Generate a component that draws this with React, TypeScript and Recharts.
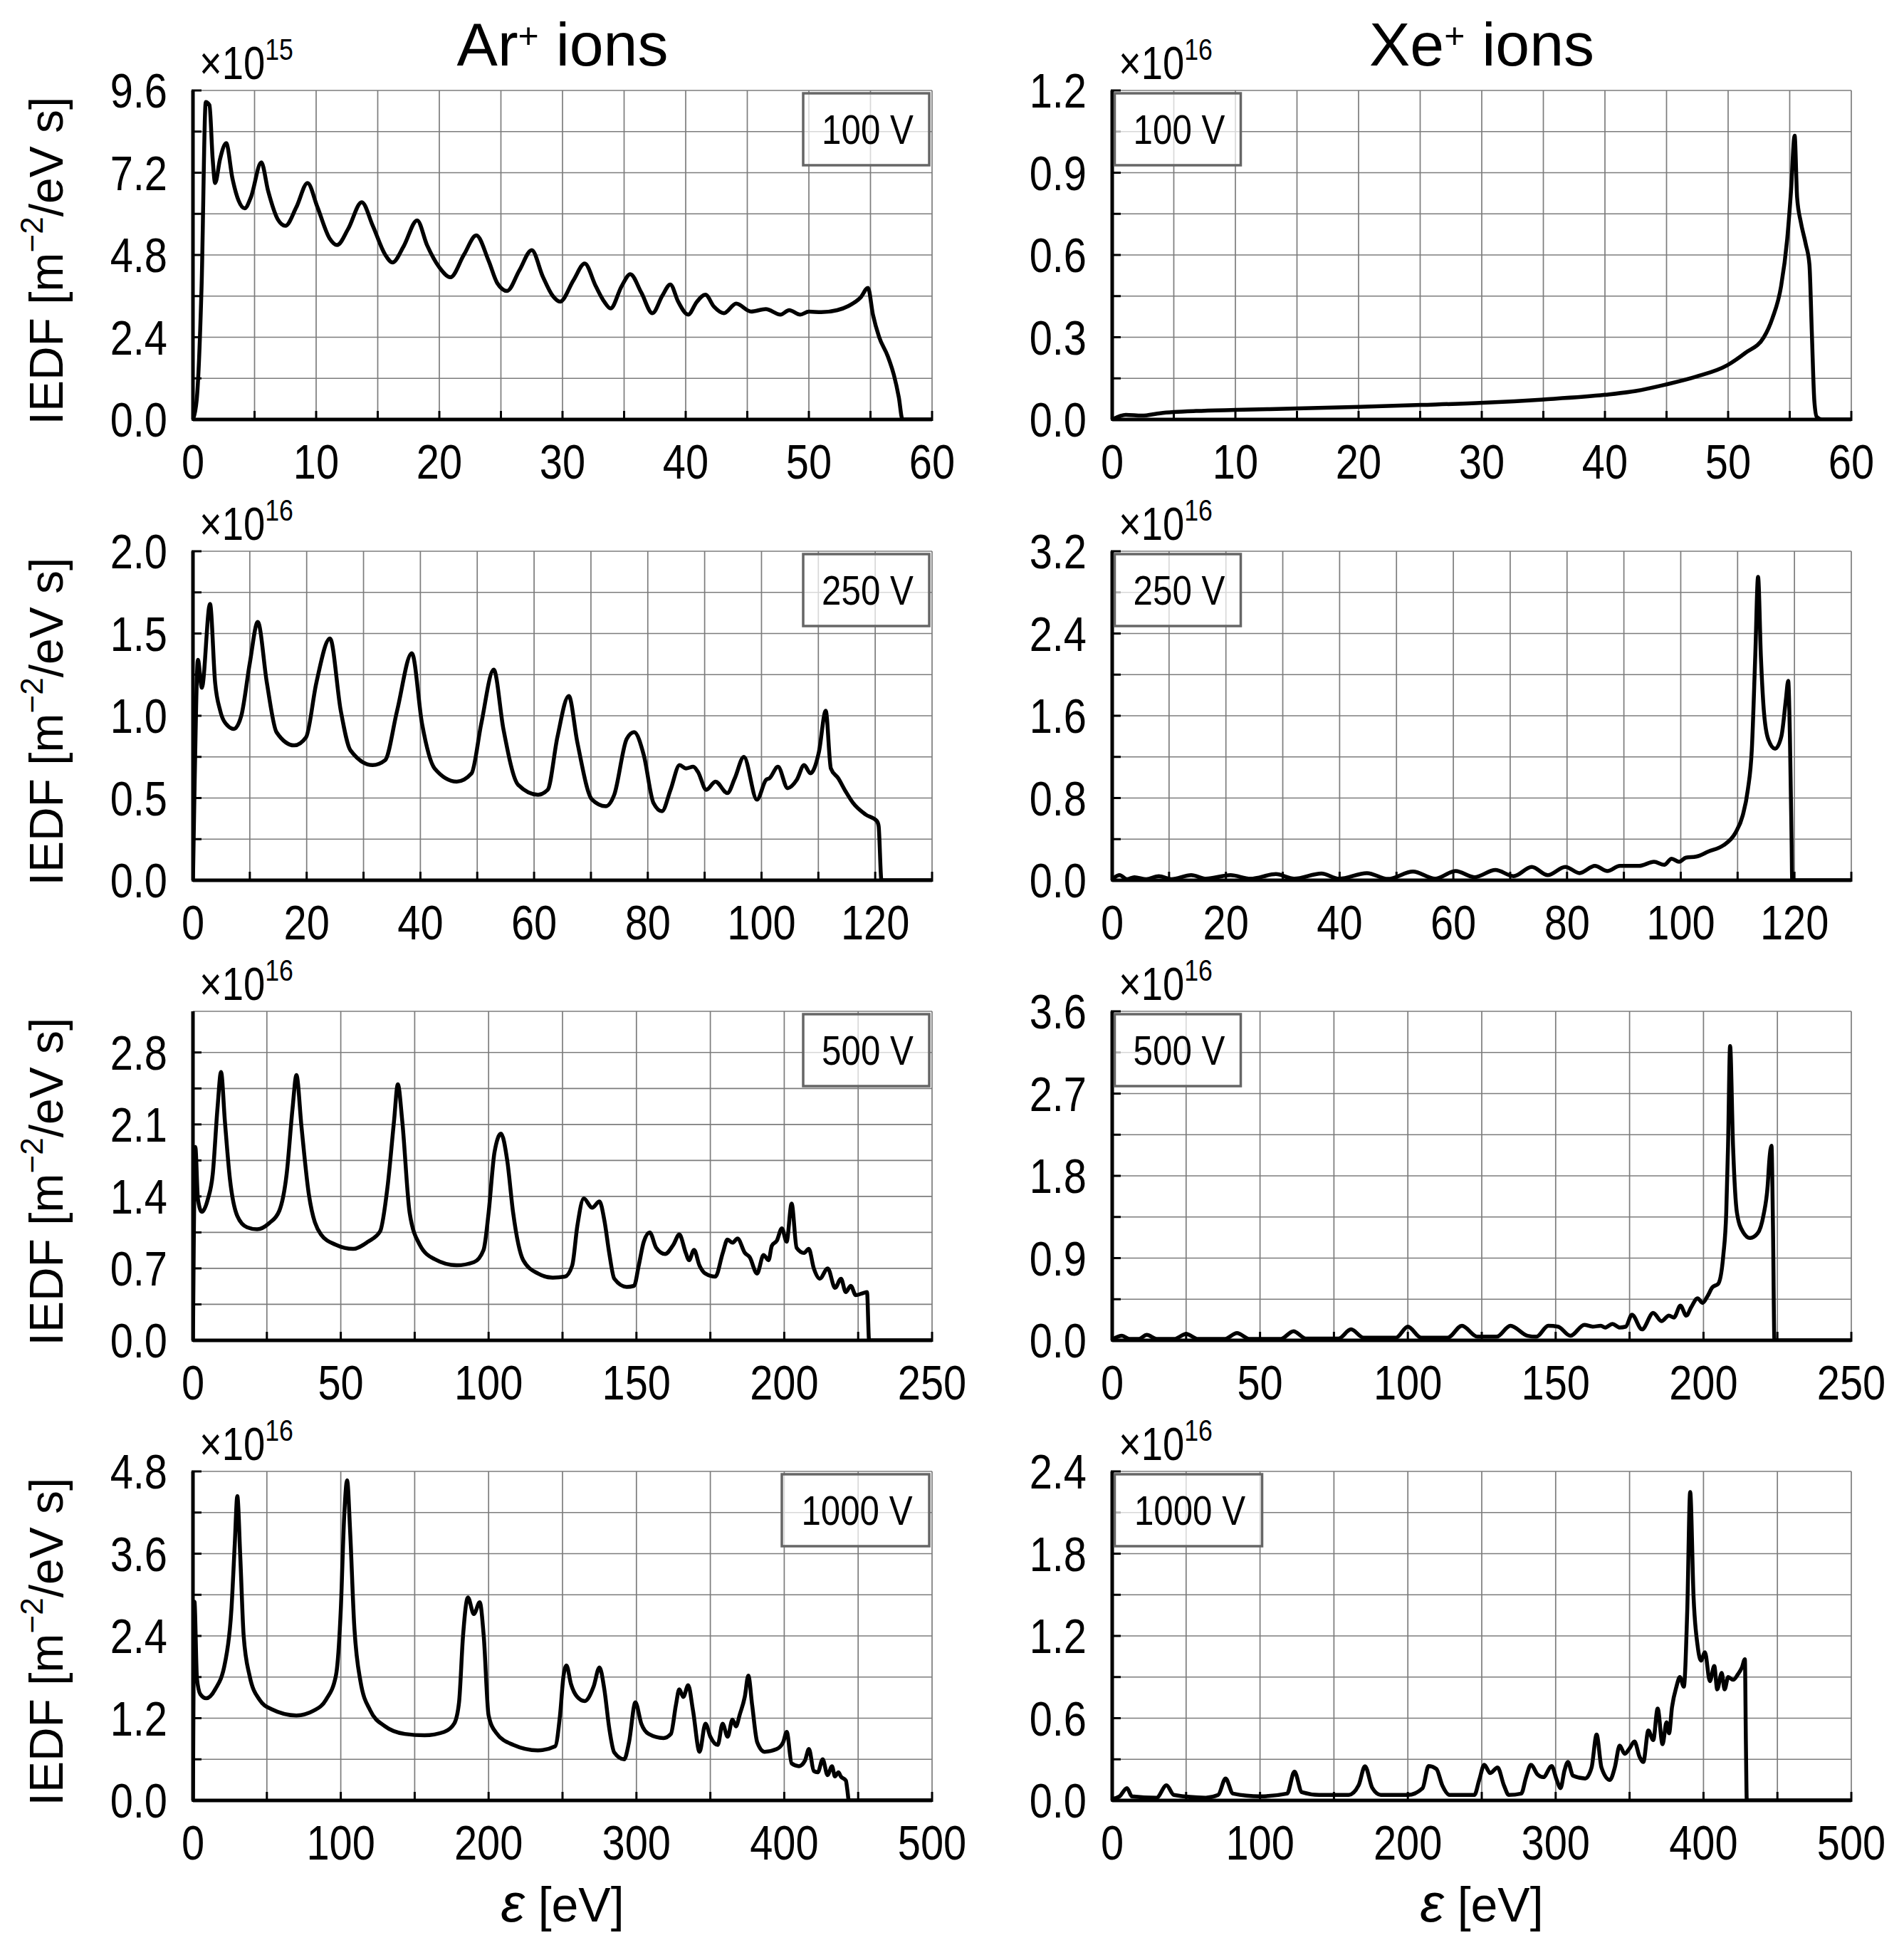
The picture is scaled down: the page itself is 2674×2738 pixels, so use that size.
import React from 'react';
import { LineChart, Line, XAxis, YAxis, CartesianGrid } from 'recharts';

// ---- axis ticks (grid at every tick, labels only on the listed ones) ----
const X60_GRID = [0, 5, 10, 15, 20, 25, 30, 35, 40, 45, 50, 55, 60];
const X60_LABELS = [0, 10, 20, 30, 40, 50, 60];
const X130_GRID = [0, 10, 20, 30, 40, 50, 60, 70, 80, 90, 100, 110, 120, 130];
const X130_LABELS = [0, 20, 40, 60, 80, 100, 120];
const X250_GRID = [0, 25, 50, 75, 100, 125, 150, 175, 200, 225, 250];
const X250_LABELS = [0, 50, 100, 150, 200, 250];
const X500_GRID = [0, 50, 100, 150, 200, 250, 300, 350, 400, 450, 500];
const X500_LABELS = [0, 100, 200, 300, 400, 500];

const AR100_YGRID = [0, 1.2, 2.4, 3.6, 4.8, 6.0, 7.2, 8.4, 9.6];
const AR100_YLABELS = [0, 2.4, 4.8, 7.2, 9.6];
const XE100_YGRID = [0, 0.15, 0.3, 0.45, 0.6, 0.75, 0.9, 1.05, 1.2];
const XE100_YLABELS = [0, 0.3, 0.6, 0.9, 1.2];
const AR250_YGRID = [0, 0.25, 0.5, 0.75, 1.0, 1.25, 1.5, 1.75, 2.0];
const AR250_YLABELS = [0, 0.5, 1.0, 1.5, 2.0];
const XE250_YGRID = [0, 0.4, 0.8, 1.2, 1.6, 2.0, 2.4, 2.8, 3.2];
const XE250_YLABELS = [0, 0.8, 1.6, 2.4, 3.2];
const AR500_YGRID = [0, 0.35, 0.7, 1.05, 1.4, 1.75, 2.1, 2.45, 2.8];
const AR500_YLABELS = [0, 0.7, 1.4, 2.1, 2.8];
const XE500_YGRID = [0, 0.45, 0.9, 1.35, 1.8, 2.25, 2.7, 3.15, 3.6];
const XE500_YLABELS = [0, 0.9, 1.8, 2.7, 3.6];
const AR1000_YGRID = [0, 0.6, 1.2, 1.8, 2.4, 3.0, 3.6, 4.2, 4.8];
const AR1000_YLABELS = [0, 1.2, 2.4, 3.6, 4.8];
const XE1000_YGRID = [0, 0.3, 0.6, 0.9, 1.2, 1.5, 1.8, 2.1, 2.4];
const XE1000_YLABELS = [0, 0.6, 1.2, 1.8, 2.4];

// ---- IEDF curves: energy [eV] and IEDF (in units of the panel multiplier) ----
const AR100_E = [
  0, 0.3, 0.7, 1.04, 1.34, 1.6, 1.8, 2.2, 2.7, 3.2,
  3.7, 4.2, 4.7, 5.55, 6.1, 6.9, 7.5, 8.4, 9.3, 10.1,
  11.1, 11.7, 12.6, 13.7, 14.6, 15.6, 16.2, 17.1, 18.2, 19.0,
  20.0, 20.9, 22.0, 23.0, 24.0, 24.7, 25.5, 26.5, 27.5, 28.4,
  29.2, 29.8, 30.9, 31.8, 32.7, 33.4, 33.9, 34.8, 35.5, 36.4,
  37.3, 38.1, 38.75, 39.4, 40.2, 40.9, 41.6, 42.3, 43.1, 44.1,
  45.3, 46.5, 47.7, 48.4, 49.3, 50.0, 51.0, 52.3, 53.2, 54.2,
  54.8, 55.2, 55.7, 56.4, 56.9, 57.3, 57.6, 60,
];
const AR100_F = [
  0, 0.56, 3.89, 9.26, 9.17, 7.6, 6.9, 7.6, 8.06, 7.04,
  6.39, 6.16, 6.48, 7.5, 6.67, 5.83, 5.65, 6.2, 6.9, 6.2,
  5.28, 5.09, 5.56, 6.34, 5.65, 4.81, 4.58, 5.05, 5.81, 5.09,
  4.44, 4.15, 4.81, 5.37, 4.63, 3.98, 3.75, 4.35, 4.94, 4.17,
  3.61, 3.44, 4.07, 4.55, 3.89, 3.43, 3.24, 3.89, 4.24, 3.70,
  3.10, 3.61, 3.94, 3.43, 3.06, 3.43, 3.64, 3.29, 3.10, 3.38,
  3.15, 3.22, 3.06, 3.19, 3.06, 3.15, 3.13, 3.19, 3.31, 3.56,
  3.84, 3.06, 2.41, 1.85, 1.30, 0.65, 0, 0,
];

const XE100_E = [
  0, 1.1, 2.4, 3.9, 5, 6.8, 10, 15, 20.1, 25.1,
  30.1, 35, 40, 42.5, 44.9, 47.4, 49.9, 51.4, 52.9, 53.6,
  54.3, 54.8, 55.1, 55.4, 55.6, 55.9, 56.3, 56.6, 56.8, 57,
  57.2, 57.6, 60,
];
const XE100_F = [
  0, 0.017, 0.014, 0.023, 0.027, 0.031, 0.035, 0.04, 0.046, 0.053,
  0.061, 0.073, 0.09, 0.104, 0.127, 0.156, 0.197, 0.243, 0.30, 0.37,
  0.486, 0.66, 0.83, 1.035, 0.81, 0.72, 0.64, 0.565, 0.31, 0.067,
  0.009, 0, 0,
];

const AR250_E = [
  0, 0.3, 0.87, 1.56, 3.0, 3.9, 4.8, 6.1, 7.2, 8.5,
  10, 11.4, 13, 14.7, 17.8, 19.9, 21.7, 24.1, 26, 27.7,
  31.6, 33.8, 35.9, 38.5, 40.3, 42.5, 46.4, 49, 50.7, 52.9,
  54.6, 57.2, 60.7, 62.4, 64.1, 66.1, 67.6, 70.2, 72.6, 74.1,
  76.3, 77.6, 79.3, 81, 82.5, 84, 85.6, 86.7, 88, 88.8,
  90.3, 91.9, 94, 95.3, 96.9, 99.2, 100.8, 101.4, 102.9, 104.6,
  106.2, 107.5, 108.6, 110.1, 111.3, 112.2, 113.5, 114.8, 116.1, 118.3,
  120.3, 120.6, 121.1, 130,
];
const AR250_F = [
  0, 0.6, 1.34, 1.17, 1.68, 1.2, 1.03, 0.94, 0.92, 1.0,
  1.32, 1.57, 1.2, 0.9, 0.82, 0.87, 1.2, 1.47, 1.03, 0.79,
  0.70, 0.73, 1.03, 1.38, 0.95, 0.68, 0.60, 0.65, 0.95, 1.28,
  0.92, 0.58, 0.52, 0.55, 0.87, 1.12, 0.84, 0.49, 0.45, 0.52,
  0.86, 0.90, 0.76, 0.47, 0.42, 0.55, 0.70, 0.68, 0.69, 0.66,
  0.55, 0.60, 0.53, 0.62, 0.75, 0.49, 0.61, 0.62, 0.69, 0.56,
  0.61, 0.70, 0.65, 0.78, 1.03, 0.68, 0.62, 0.54, 0.47, 0.40,
  0.36, 0.33, 0, 0,
];

const XE250_E = [
  0, 1.3, 2.6, 3.9, 6, 8.2, 10.4, 13.9, 16.5, 20.8,
  24.3, 28.8, 32, 36.8, 39.9, 44.8, 48.5, 52.9, 56.8, 60.4,
  63.7, 67.4, 70.6, 73.8, 76.6, 79.7, 82.2, 84.9, 87.1, 89.3,
  92.7, 95.3, 97.1, 98.4, 99.7, 100.9, 102.7, 104.9, 107.5, 109.6,
  110.9, 111.8, 112.5, 113.1, 113.6, 114.1, 114.6, 115.4, 116.6, 117.7,
  118.5, 118.9, 119.2, 119.5, 119.6, 130,
];
const XE250_F = [
  0.01, 0.05, 0.01, 0.03, 0.01, 0.04, 0.01, 0.05, 0.015, 0.05,
  0.015, 0.06, 0.015, 0.065, 0.015, 0.07, 0.013, 0.085, 0.015, 0.09,
  0.03, 0.10, 0.04, 0.13, 0.05, 0.13, 0.07, 0.14, 0.09, 0.14,
  0.14, 0.18, 0.15, 0.21, 0.18, 0.22, 0.23, 0.28, 0.34, 0.46,
  0.63, 0.88, 1.27, 2.17, 2.95, 2.17, 1.66, 1.37, 1.28, 1.40,
  1.76, 1.94, 1.40, 0.37, 0, 0,
];

const AR500_E = [
  0, 0.8, 1.7, 3, 5, 6.7, 8.3, 9.5, 10.8, 12.5,
  15, 18.3, 21.7, 25.8, 29.2, 31.7, 33.7, 35, 36.7, 39.2,
  43.3, 48.3, 54.2, 59.2, 63.3, 65.8, 68, 69.3, 70.8, 73.3,
  76.7, 81.7, 89.2, 95, 98.3, 100, 102, 104.2, 106.3, 108.3,
  111.7, 116.7, 121.7, 125.8, 128.3, 130, 132.2, 135, 137.5, 139.2,
  140.8, 142.5, 146.7, 149.2, 150.8, 152.5, 154.5, 156.7, 159.7, 162.5,
  164.5, 166.7, 167.8, 169.5, 171.3, 173.3, 176.7, 179.2, 180.8, 182.5,
  184.2, 186.7, 188.3, 190.8, 193, 194.7, 195.8, 197.5, 199.2, 200.8,
  202.5, 204.2, 206.7, 208.3, 210, 212, 214.7, 217.2, 219.2, 220.8,
  222.5, 224.2, 226.7, 228, 228.7, 250,
];
const AR500_F = [
  0, 1.88, 1.37, 1.25, 1.37, 1.62, 2.26, 2.61, 2.13, 1.57,
  1.21, 1.10, 1.08, 1.14, 1.26, 1.62, 2.26, 2.58, 2.08, 1.42,
  1.03, 0.93, 0.89, 0.96, 1.06, 1.49, 2.13, 2.49, 2.13, 1.24,
  0.93, 0.79, 0.73, 0.76, 0.88, 1.24, 1.83, 2.01, 1.75, 1.24,
  0.78, 0.65, 0.61, 0.62, 0.73, 1.11, 1.38, 1.29, 1.35, 1.16,
  0.85, 0.60, 0.52, 0.53, 0.73, 0.96, 1.05, 0.90, 0.84, 0.93,
  1.03, 0.85, 0.78, 0.88, 0.73, 0.65, 0.62, 0.85, 0.98, 0.95,
  0.99, 0.85, 0.81, 0.65, 0.83, 0.78, 0.92, 0.97, 1.09, 0.96,
  1.33, 0.90, 0.85, 0.89, 0.70, 0.60, 0.70, 0.51, 0.60, 0.47,
  0.53, 0.44, 0.46, 0.47, 0, 0,
];

const XE500_E = [
  0, 3.3, 5.8, 9, 11.7, 15, 21, 25, 29, 38,
  42.2, 46.5, 57, 61.3, 65.5, 76.5, 80.8, 85, 96, 100,
  104.5, 113.5, 118.3, 123.5, 130, 134.7, 140.5, 143.5, 147.5, 150.8,
  155, 159.7, 162.5, 165.3, 166.7, 169.2, 171.7, 173.7, 175.8, 179.2,
  183, 185.8, 188.3, 190, 192.2, 194.2, 195.8, 198, 199.7, 201.3,
  203, 205, 206.7, 207.7, 208.3, 209, 210, 211.3, 213.3, 215.8,
  218.3, 220.3, 221.7, 222.3, 223, 223.5, 224, 250,
];
const XE500_F = [
  0.01, 0.05, 0.015, 0.015, 0.06, 0.015, 0.015, 0.07, 0.015, 0.015,
  0.08, 0.015, 0.015, 0.10, 0.02, 0.02, 0.12, 0.03, 0.03, 0.15,
  0.03, 0.03, 0.16, 0.04, 0.04, 0.16, 0.05, 0.04, 0.16, 0.15,
  0.05, 0.17, 0.15, 0.16, 0.14, 0.18, 0.14, 0.15, 0.28, 0.12,
  0.30, 0.21, 0.27, 0.25, 0.38, 0.27, 0.36, 0.46, 0.41, 0.48,
  0.58, 0.62, 0.93, 1.40, 2.12, 3.22, 2.12, 1.40, 1.19, 1.12,
  1.17, 1.37, 1.69, 1.98, 2.13, 1.25, 0, 0,
];

const AR1000_E = [
  0, 1, 2.7, 5, 9, 15, 21.7, 26, 28.3, 30,
  32, 34.3, 38.3, 45, 53.3, 70, 81.7, 90, 96.7, 100,
  102.3, 104.3, 106.3, 109, 113.3, 120, 130, 143.3, 156.7, 170,
  176.7, 180, 182.7, 186, 190, 194, 196.7, 200, 205, 216.7,
  233.3, 245, 248.3, 250.7, 252.7, 255.7, 260, 265, 271, 275,
  278.3, 281.7, 285, 291.7, 295, 299.3, 303.3, 308.3, 318.3, 323.3,
  326.7, 329, 331.7, 335, 338.3, 342.7, 346.7, 350, 355, 358.3,
  361.7, 365, 367.3, 370, 373.3, 375.7, 378.3, 381.7, 386.7, 395,
  399.3, 401.7, 405, 410, 414, 416.7, 420, 422.7, 426, 429.3,
  432.3, 434.3, 436.7, 438.3, 441.7, 442.7, 443.7, 500,
];
const AR1000_F = [
  0, 2.90, 1.78, 1.55, 1.49, 1.62, 2.01, 2.78, 3.75, 4.44,
  3.56, 2.40, 1.82, 1.47, 1.33, 1.24, 1.31, 1.47, 1.82, 2.78,
  4.14, 4.67, 3.94, 2.59, 1.74, 1.31, 1.08, 0.97, 0.95, 1.00,
  1.12, 1.43, 2.40, 2.96, 2.72, 2.89, 2.40, 1.24, 0.99, 0.81,
  0.73, 0.79, 1.24, 1.82, 1.97, 1.70, 1.51, 1.45, 1.66, 1.94,
  1.62, 1.04, 0.70, 0.60, 0.85, 1.43, 1.12, 0.97, 0.91, 0.97,
  1.39, 1.62, 1.51, 1.68, 1.31, 0.71, 1.12, 0.93, 0.81, 1.12,
  0.93, 1.18, 1.08, 1.26, 1.51, 1.82, 1.39, 0.85, 0.71, 0.75,
  0.85, 1.00, 0.54, 0.50, 0.58, 0.75, 0.43, 0.41, 0.60, 0.37,
  0.50, 0.35, 0.41, 0.35, 0.29, 0.15, 0, 0,
];

const XE1000_E = [
  0, 5, 10, 13.3, 30, 36.7, 41.7, 63.3, 71.7, 76.7,
  81.7, 100, 118.3, 123.3, 128.3, 140, 160, 166.7, 171, 176,
  181.7, 200, 210, 214, 219.3, 223.3, 228.3, 245, 248.3, 251.7,
  255.7, 260.7, 265, 268.3, 276.7, 280, 283.3, 287.7, 291.7, 297.3,
  300.7, 303.3, 306, 308.3, 311.7, 320, 324.3, 327.7, 331, 336.7,
  340, 343.3, 346.7, 350, 353.3, 356.7, 359.3, 362.7, 366, 369,
  372.3, 375, 376.7, 378.7, 381.7, 384, 386.7, 389, 391, 393.3,
  396, 398.3, 401, 404.3, 407.3, 409.3, 412.3, 414.3, 416.7, 420,
  423.3, 426, 428, 428.7, 429.3, 500,
];
const XE1000_F = [
  0.01, 0.03, 0.09, 0.03, 0.02, 0.11, 0.04, 0.02, 0.04, 0.16,
  0.05, 0.03, 0.05, 0.21, 0.06, 0.04, 0.04, 0.11, 0.25, 0.09,
  0.04, 0.04, 0.09, 0.25, 0.23, 0.11, 0.04, 0.04, 0.15, 0.26,
  0.20, 0.24, 0.11, 0.04, 0.05, 0.17, 0.26, 0.19, 0.17, 0.25,
  0.15, 0.09, 0.22, 0.28, 0.18, 0.16, 0.24, 0.48, 0.24, 0.15,
  0.24, 0.40, 0.34, 0.38, 0.43, 0.32, 0.28, 0.51, 0.44, 0.67,
  0.41, 0.57, 0.49, 0.68, 0.83, 0.90, 0.83, 1.38, 2.25, 1.48,
  1.13, 1.02, 1.08, 0.87, 0.98, 0.81, 0.93, 0.81, 0.90, 0.88,
  0.92, 0.97, 1.03, 0.41, 0, 0,
];

// ---- layout ----
const FONT = '"Liberation Sans", Arial, Helvetica, sans-serif';
const PW = 1038;
const PH = 462;
const COLS = [271, 1562];
const ROWS = [127, 774, 1420, 2066];
const ML = 200;
const MT = 60;
const MR = 60;
const MB = 100;
const TICK = 14;
const NARROW = 0.85; // tick labels use a condensed face in the original
const AXIS = { stroke: '#000', strokeWidth: 5 };

const isLabel = (labels: number[], v: number) => labels.some((l) => Math.abs(l - v) < 1e-6);

// condensed text: scale horizontally around the anchor point
const Narrow = ({ x, y, anchor, size, children }: any) => (
  <text
    transform={`translate(${x} ${y}) scale(${NARROW} 1)`}
    textAnchor={anchor}
    fontSize={size}
    fontFamily={FONT}
    fill="#000"
  >
    {children}
  </text>
);

const bottomTick = (labels: number[]) => (props: any) => {
  const { x, y, payload } = props;
  return (
    <g>
      <line x1={x} y1={y} x2={x} y2={y - TICK} stroke="#000" strokeWidth={3} />
      {isLabel(labels, payload.value) && (
        <Narrow x={x} y={y + 81} anchor="middle" size={68}>
          {payload.value}
        </Narrow>
      )}
    </g>
  );
};

const leftTick = (labels: number[]) => (props: any) => {
  const { x, y, payload } = props;
  return (
    <g>
      <line x1={x} y1={y} x2={x + TICK} y2={y} stroke="#000" strokeWidth={3} />
      {isLabel(labels, payload.value) && (
        <Narrow x={x - 34} y={y + 24} anchor="end" size={68}>
          {payload.value.toFixed(1)}
        </Narrow>
      )}
    </g>
  );
};

const topTick = (props: any) => {
  const { x, y } = props;
  return <line x1={x} y1={y} x2={x} y2={y + TICK} stroke="#000" strokeWidth={3} />;
};

const rightTick = (props: any) => {
  const { x, y } = props;
  return <line x1={x} y1={y} x2={x - TICK} y2={y} stroke="#000" strokeWidth={3} />;
};

interface PanelSpec {
  e: number[];
  f: number[];
  xMax: number;
  xGrid: number[];
  xLabels: number[];
  yMax: number;
  yGrid: number[];
  yLabels: number[];
  col: number;
  row: number;
  exp: string;
  volt: string;
}

const PANELS: PanelSpec[] = [
  { e: AR100_E, f: AR100_F, xMax: 60, xGrid: X60_GRID, xLabels: X60_LABELS, yMax: 9.6, yGrid: AR100_YGRID, yLabels: AR100_YLABELS, col: 0, row: 0, exp: '15', volt: '100 V' },
  { e: XE100_E, f: XE100_F, xMax: 60, xGrid: X60_GRID, xLabels: X60_LABELS, yMax: 1.2, yGrid: XE100_YGRID, yLabels: XE100_YLABELS, col: 1, row: 0, exp: '16', volt: '100 V' },
  { e: AR250_E, f: AR250_F, xMax: 130, xGrid: X130_GRID, xLabels: X130_LABELS, yMax: 2.0, yGrid: AR250_YGRID, yLabels: AR250_YLABELS, col: 0, row: 1, exp: '16', volt: '250 V' },
  { e: XE250_E, f: XE250_F, xMax: 130, xGrid: X130_GRID, xLabels: X130_LABELS, yMax: 3.2, yGrid: XE250_YGRID, yLabels: XE250_YLABELS, col: 1, row: 1, exp: '16', volt: '250 V' },
  { e: AR500_E, f: AR500_F, xMax: 250, xGrid: X250_GRID, xLabels: X250_LABELS, yMax: 3.2, yGrid: AR500_YGRID, yLabels: AR500_YLABELS, col: 0, row: 2, exp: '16', volt: '500 V' },
  { e: XE500_E, f: XE500_F, xMax: 250, xGrid: X250_GRID, xLabels: X250_LABELS, yMax: 3.6, yGrid: XE500_YGRID, yLabels: XE500_YLABELS, col: 1, row: 2, exp: '16', volt: '500 V' },
  { e: AR1000_E, f: AR1000_F, xMax: 500, xGrid: X500_GRID, xLabels: X500_LABELS, yMax: 4.8, yGrid: AR1000_YGRID, yLabels: AR1000_YLABELS, col: 0, row: 3, exp: '16', volt: '1000 V' },
  { e: XE1000_E, f: XE1000_F, xMax: 500, xGrid: X500_GRID, xLabels: X500_LABELS, yMax: 2.4, yGrid: XE1000_YGRID, yLabels: XE1000_YLABELS, col: 1, row: 3, exp: '16', volt: '1000 V' },
];

function Panel({ p }: { p: PanelSpec }) {
  const data = p.e.map((e, i) => ({ e, f: p.f[i] }));
  const left = COLS[p.col];
  const top = ROWS[p.row];
  return (
    <div style={{ position: 'absolute', left: left - ML, top: top - MT }}>
      <LineChart
        width={ML + PW + MR}
        height={MT + PH + MB}
        data={data}
        margin={{ top: MT, right: MR, bottom: 0, left: 0 }}
      >
        <CartesianGrid stroke="#7c7c7c" strokeWidth={1.7} />
        <XAxis
          dataKey="e"
          type="number"
          domain={[0, p.xMax]}
          ticks={p.xGrid}
          interval={0}
          allowDataOverflow
          height={MB}
          tickSize={0}
          tickLine={false}
          axisLine={AXIS}
          tick={bottomTick(p.xLabels)}
        />
        <XAxis
          xAxisId="top"
          orientation="top"
          type="number"
          domain={[0, p.xMax]}
          ticks={p.xGrid}
          interval={0}
          allowDataOverflow
          height={0}
          tickSize={0}
          tickLine={false}
          axisLine={AXIS}
          tick={topTick}
        />
        <YAxis
          type="number"
          domain={[0, p.yMax]}
          ticks={p.yGrid}
          interval={0}
          allowDataOverflow
          width={ML}
          tickSize={0}
          tickLine={false}
          axisLine={AXIS}
          tick={leftTick(p.yLabels)}
        />
        <YAxis
          yAxisId="right"
          orientation="right"
          type="number"
          domain={[0, p.yMax]}
          ticks={p.yGrid}
          interval={0}
          allowDataOverflow
          width={0}
          tickSize={0}
          tickLine={false}
          axisLine={AXIS}
          tick={rightTick}
        />
        <Line
          dataKey="f"
          type="monotone"
          stroke="#000"
          strokeWidth={5.5}
          strokeLinejoin="round"
          dot={false}
          activeDot={false}
          isAnimationActive={false}
        />
      </LineChart>
    </div>
  );
}

function Overlay() {
  return (
    <svg
      width={2674}
      height={2738}
      style={{ position: 'absolute', left: 0, top: 0, pointerEvents: 'none' }}
      fontFamily={FONT}
    >
      <text x={790} y={92} textAnchor="middle" fontSize={86}>
        Ar<tspan dy={-25} fontSize={50}>+</tspan>
        <tspan dy={25}> ions</tspan>
      </text>
      <text x={2081} y={92} textAnchor="middle" fontSize={86}>
        Xe<tspan dy={-25} fontSize={50}>+</tspan>
        <tspan dy={25}> ions</tspan>
      </text>

      {ROWS.map((top) => (
        <text
          key={'yl' + top}
          x={88}
          y={top + PH / 2 + 8}
          transform={`rotate(-90 88 ${top + PH / 2 + 8})`}
          textAnchor="middle"
          fontSize={66}
        >
          IEDF [m<tspan dy={-28} fontSize={44}>−2</tspan>
          <tspan dy={28}>/eV s]</tspan>
        </text>
      ))}

      {COLS.map((left) => (
        <text key={'xl' + left} x={left + PW / 2} y={2698} textAnchor="middle" fontSize={68}>
          <tspan fontStyle="italic" fontSize={76}>ε</tspan> [eV]
        </text>
      ))}

      {PANELS.map((p) => {
        const left = COLS[p.col];
        const top = ROWS[p.row];
        const w = p.volt.length > 5 ? 211 : 181;
        const h = 105;
        const bx = p.col === 0 ? left + PW - w : left + 3.5;
        return (
          <g key={'ann' + p.col + p.row}>
            <Narrow x={left + 9} y={top - 16} anchor="start" size={64}>
              ×10<tspan dy={-27} fontSize={42}>{p.exp}</tspan>
            </Narrow>
            <rect
              x={bx}
              y={top + 4}
              width={w - 4}
              height={h - 4}
              fill="#fff"
              fillOpacity={0.7}
              stroke="#666"
              strokeWidth={3.5}
            />
            <Narrow x={bx + w / 2} y={top + h / 2 + 22} anchor="middle" size={58}>
              {p.volt}
            </Narrow>
          </g>
        );
      })}
    </svg>
  );
}

export default function App() {
  return (
    <div style={{ position: 'absolute', left: 0, top: 0, width: 2674, height: 2738, background: '#fff' }}>
      {PANELS.map((p) => (
        <Panel key={p.col + '-' + p.row} p={p} />
      ))}
      <Overlay />
    </div>
  );
}
